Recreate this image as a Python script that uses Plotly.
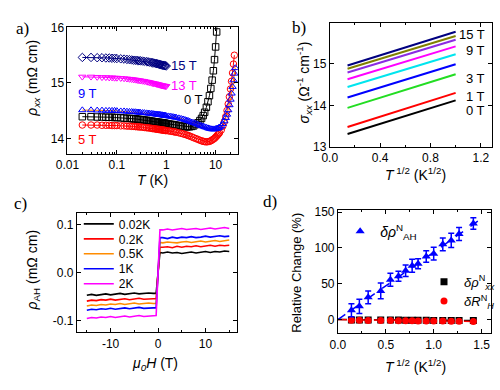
import plotly.graph_objects as go

# ---------------- data: panel a ----------------
T_low = [0.02, 0.03, 0.04, 0.05, 0.06, 0.07, 0.08, 0.09, 0.10, 0.12, 0.14, 0.16, 0.18, 0.20,
         0.22, 0.24, 0.26, 0.28, 0.30, 0.33, 0.36, 0.40, 0.43, 0.46, 0.50, 0.53, 0.56, 0.60,
         0.63, 0.66, 0.70, 0.73, 0.76, 0.80, 0.83, 0.86, 0.90, 0.93, 0.96, 1.00]
T_high = [1.1, 1.2, 1.3, 1.4, 1.5, 1.6, 1.8, 2.0, 2.2, 2.4, 2.6, 2.8, 3.0, 3.3, 3.6, 4.0, 4.4,
          4.8, 5.2, 5.6, 6.0, 6.5, 7.0, 7.5, 8.0, 8.5, 9.0, 9.5, 10, 10.5, 11, 11.5, 12, 13,
          14, 15, 16, 17, 18, 19, 20, 21, 22, 23, 24, 25]

rho_15T = [15.46, 15.46, 15.455, 15.455, 15.45, 15.45, 15.445, 15.445, 15.44, 15.435,
           15.43, 15.425, 15.42, 15.415, 15.41, 15.41, 15.405, 15.40, 15.40, 15.395,
           15.39, 15.385, 15.38, 15.375, 15.37, 15.365, 15.36, 15.355, 15.35, 15.345,
           15.34, 15.335, 15.33, 15.325, 15.32, 15.32, 15.315, 15.31, 15.31, 15.305]
rho_13T = [15.11, 15.11, 15.105, 15.10, 15.10, 15.095, 15.095, 15.09, 15.09, 15.085,
           15.08, 15.075, 15.07, 15.065, 15.06, 15.055, 15.05, 15.045, 15.04, 15.035,
           15.03, 15.02, 15.015, 15.01, 15.00, 14.995, 14.99, 14.985, 14.98, 14.975,
           14.97, 14.965, 14.96, 14.955, 14.95, 14.95, 14.945, 14.945, 14.94, 14.94]
rho_9T = [14.51, 14.51, 14.505, 14.505, 14.50, 14.50, 14.50, 14.50, 14.495, 14.49,
          14.49, 14.485, 14.48, 14.48, 14.475, 14.475, 14.47, 14.47, 14.465, 14.46,
          14.46, 14.455, 14.45, 14.45, 14.445, 14.44, 14.44, 14.435, 14.435, 14.43,
          14.43, 14.425, 14.425, 14.42, 14.42, 14.415, 14.415, 14.41, 14.41, 14.405,
          14.40, 14.395, 14.39, 14.385, 14.38, 14.375, 14.365, 14.355, 14.345, 14.335,
          14.325, 14.315, 14.305, 14.29, 14.28, 14.265, 14.25, 14.235, 14.225, 14.215,
          14.205, 14.195, 14.185, 14.175, 14.17, 14.165, 14.165, 14.165, 14.17, 14.175,
          14.18, 14.19, 14.20, 14.22, 14.26, 14.31, 14.37, 14.43, 14.51, 14.60,
          14.70, 14.81, 14.93, 15.05, 15.17, 15.27]
rho_0T = [14.39, 14.39, 14.385, 14.385, 14.38, 14.38, 14.38, 14.375, 14.375, 14.37,
          14.365, 14.36, 14.36, 14.355, 14.35, 14.35, 14.345, 14.34, 14.34, 14.335,
          14.33, 14.325, 14.32, 14.315, 14.31, 14.305, 14.30, 14.30, 14.295, 14.29,
          14.29, 14.285, 14.285, 14.28, 14.28, 14.275, 14.275, 14.27, 14.27, 14.265,
          14.26, 14.255, 14.25, 14.245, 14.24, 14.235, 14.23, 14.22, 14.215, 14.21,
          14.21, 14.21, 14.21, 14.215, 14.225, 14.25, 14.28, 14.32, 14.36, 14.41,
          14.47, 14.56, 14.66, 14.77, 14.90, 15.05, 15.22, 15.42, 15.65, 15.92, 16.2]
rho_5T = [14.24, 14.24, 14.24, 14.235, 14.235, 14.235, 14.23, 14.23, 14.23, 14.225,
          14.225, 14.22, 14.22, 14.215, 14.215, 14.21, 14.21, 14.205, 14.205, 14.20,
          14.195, 14.19, 14.19, 14.185, 14.18, 14.175, 14.175, 14.17, 14.165, 14.165,
          14.16, 14.16, 14.155, 14.155, 14.15, 14.15, 14.145, 14.145, 14.14, 14.14,
          14.135, 14.13, 14.125, 14.12, 14.115, 14.11, 14.10, 14.09, 14.08, 14.07,
          14.06, 14.05, 14.04, 14.025, 14.01, 13.995, 13.98, 13.965, 13.955, 13.945,
          13.94, 13.935, 13.94, 13.945, 13.955, 13.97, 13.985, 14.00, 14.02, 14.04,
          14.06, 14.08, 14.10, 14.15, 14.22, 14.30, 14.39, 14.50, 14.62, 14.75,
          14.89, 15.03, 15.18, 15.34, 15.50]

# ---------------- data: panel b ----------------
sqrtT_b = [0.141, 1.0]
b_fields = ["0 T", "1 T", "3 T", "5 T", "7 T", "9 T", "11 T", "13 T", "15 T"]
sigma_start = [13.31, 13.48, 13.94, 14.19, 14.44, 14.63, 14.79, 14.88, 14.96]
sigma_end = [14.12, 14.30, 14.75, 14.99, 15.23, 15.42, 15.58, 15.67, 15.77]

# ---------------- data: panel c ----------------
H_field = [-15, -14, -13, -12, -11, -10, -9, -8, -7, -6, -5, -4, -3, -2, -1,
           -0.4, 0, 0.4,
           1, 2, 3, 4, 5, 6, 7, 8, 9, 10, 11, 12, 13, 14, 15]
c_names = ["0.02K", "0.2K", "0.5K", "1K", "2K"]
rhoAH_002K = [-0.047, -0.045, -0.047, -0.046, -0.044, -0.046, -0.045, -0.043, -0.045, -0.044,
              -0.042, -0.044, -0.043, -0.042, -0.043, -0.043, 0.0, 0.042,
              0.041, 0.043, 0.041, 0.042, 0.040, 0.042, 0.043, 0.041, 0.043, 0.044,
              0.042, 0.044, 0.043, 0.045, 0.044]
rhoAH_02K = [-0.059, -0.057, -0.058, -0.056, -0.057, -0.055, -0.057, -0.056, -0.054, -0.056,
             -0.055, -0.053, -0.055, -0.054, -0.054, -0.054, 0.0, 0.053,
             0.053, 0.054, 0.052, 0.055, 0.053, 0.055, 0.054, 0.056, 0.054, 0.056,
             0.057, 0.055, 0.057, 0.056, 0.057]
rhoAH_05K = [-0.069, -0.067, -0.068, -0.066, -0.067, -0.065, -0.066, -0.064, -0.066, -0.065,
             -0.063, -0.065, -0.064, -0.063, -0.064, -0.064, 0.0, 0.063,
             0.062, 0.064, 0.063, 0.062, 0.064, 0.065, 0.063, 0.065, 0.066, 0.064,
             0.066, 0.067, 0.065, 0.067, 0.068]
rhoAH_1K = [-0.078, -0.076, -0.077, -0.075, -0.076, -0.074, -0.076, -0.075, -0.073, -0.075,
            -0.074, -0.072, -0.074, -0.073, -0.073, -0.073, 0.0, 0.073,
            0.073, 0.071, 0.074, 0.072, 0.074, 0.073, 0.075, 0.073, 0.074, 0.076,
            0.074, 0.075, 0.077, 0.075, 0.076]
rhoAH_2K = [-0.095, -0.093, -0.094, -0.092, -0.093, -0.091, -0.093, -0.092, -0.090, -0.092,
            -0.091, -0.089, -0.091, -0.090, -0.089, -0.089, 0.0, 0.089,
            0.089, 0.091, 0.089, 0.090, 0.092, 0.090, 0.091, 0.092, 0.090, 0.092,
            0.093, 0.091, 0.093, 0.094, 0.092]

# ---------------- data: panel d ----------------
sqrtT_d = [0.141, 0.224, 0.316, 0.447, 0.548, 0.632, 0.707, 0.775, 0.837, 0.922,
           1.0, 1.095, 1.183, 1.265, 1.414]
d_AH = [13, 18.5, 31, 40, 55.5, 60.5, 68, 75, 78, 88, 92, 105, 110.5, 119.5, 134]
d_AH_err = [9, 10, 9, 11, 9, 7, 8, 9, 7, 8, 9, 9, 10, 9, 8]
d_xx = [-0.5, -0.5, -0.6, -0.7, -0.8, -0.8, -0.9, -1.0, -1.0, -1.1, -1.2, -1.2, -1.3, -1.4, -1.5]
d_RH = [-1.0, -1.1, -1.2, -1.4, -1.5, -1.6, -1.7, -1.8, -1.9, -2.0, -2.1, -2.2, -2.3, -2.5, -2.7]
fit_x = [0, 1.5]
fit_AH = [0, 141]
fit_xx = [0, -1.5]
fit_RH = [0, -2.8]

# ---------------- figure ----------------
W, HH = 500, 390
def px(x): return x / W
def py(y): return 1 - y / HH

SANS = "Liberation Sans, Arial, sans-serif"
SERIF = "Liberation Serif, Times New Roman, serif"

fig = go.Figure()

# panel a
a_specs = [
    ("0 T", rho_0T, "square-open", "black", "black"),
    ("5 T", rho_5T, "circle-open", "red", "red"),
    ("9 T", rho_9T, "triangle-up-open", "blue", "#ff8c00"),
    ("13 T", rho_13T, "triangle-down-open", "#ff00ff", "#ff00ff"),
    ("15 T", rho_15T, "diamond-open", "#000080", "#000080"),
]
T_all = T_low + T_high
for name, vals, sym, col, lcol in a_specs:
    fig.add_trace(go.Scatter(
        x=T_all[:len(vals)], y=vals, mode="lines+markers", name=name,
        marker=dict(symbol=sym, size=6.5, color=col, line=dict(width=1, color=col)),
        line=dict(color=lcol, width=1), xaxis="x", yaxis="y", showlegend=False))

# panel b
b_colors = ["black", "red", "#22dd22", "blue", "#00e5ee", "#ff00ff", "#8a2be2", "#808000", "#000080"]
for name, s0, s1, col in zip(b_fields, sigma_start, sigma_end, b_colors):
    fig.add_trace(go.Scatter(x=sqrtT_b, y=[s0, s1], mode="lines", name=name,
                             line=dict(color=col, width=2), xaxis="x2", yaxis="y2",
                             showlegend=False))

# panel c : one legend per entry so rows can sit as close as in the reference
c_colors = ["black", "red", "#ff8c00", "blue", "#ff00ff"]
c_legends = ["legend", "legend2", "legend3", "legend4", "legend5"]
for name, vals, col, lg in zip(c_names, [rhoAH_002K, rhoAH_02K, rhoAH_05K, rhoAH_1K, rhoAH_2K],
                               c_colors, c_legends):
    fig.add_trace(go.Scatter(x=H_field, y=vals, mode="lines", name=name,
                             line=dict(color=col, width=1.6), xaxis="x3", yaxis="y3",
                             legend=lg))

# panel d
fig.add_trace(go.Scatter(x=fit_x, y=fit_xx, mode="lines", line=dict(color="black", width=1.5, dash="dash"),
                         xaxis="x4", yaxis="y4", showlegend=False))
fig.add_trace(go.Scatter(x=fit_x, y=fit_RH, mode="lines", line=dict(color="red", width=1.5, dash="dash"),
                         xaxis="x4", yaxis="y4", showlegend=False))
fig.add_trace(go.Scatter(x=fit_x, y=fit_AH, mode="lines", line=dict(color="blue", width=1.5, dash="dash"),
                         xaxis="x4", yaxis="y4", showlegend=False))
fig.add_trace(go.Scatter(x=sqrtT_d, y=d_xx, mode="markers", name="<i>δρ</i><sup>N</sup><sub><i>xx</i></sub>",
                         marker=dict(symbol="square", size=7, color="black"),
                         xaxis="x4", yaxis="y4", legend="legend7"))
fig.add_trace(go.Scatter(x=sqrtT_d, y=d_RH, mode="markers", name="<i>δR</i><sup>N</sup><sub><i>H</i></sub>",
                         marker=dict(symbol="circle", size=7, color="red"),
                         xaxis="x4", yaxis="y4", legend="legend8"))
fig.add_trace(go.Scatter(x=sqrtT_d, y=d_AH, mode="markers", name="<i>δρ</i><sup>N</sup><sub>AH</sub>",
                         marker=dict(symbol="triangle-up", size=8, color="blue"),
                         error_y=dict(type="data", array=d_AH_err, color="blue", thickness=1.5, width=3),
                         xaxis="x4", yaxis="y4", legend="legend6"))

axis_common = dict(showline=True, linecolor="black", linewidth=1, mirror="ticks",
                   ticks="inside", ticklen=4, tickwidth=1, tickcolor="black",
                   showgrid=False, zeroline=False,
                   tickfont=dict(family=SANS, size=12, color="black"))

def leg(x, y, size):
    return dict(x=px(x), y=py(y), xanchor="left", yanchor="middle", bgcolor="rgba(0,0,0,0)",
                font=dict(family=SANS, size=size, color="black"), borderwidth=0, tracegroupgap=0)

fig.update_layout(
    width=W, height=HH, margin=dict(l=0, r=0, t=0, b=0),
    paper_bgcolor="white", plot_bgcolor="white",
    font=dict(family=SANS, size=12, color="black"),
    xaxis=dict(axis_common, domain=[px(57.3), px(233.3)], anchor="y", type="log",
               range=[-2, 1.45], dtick=1, tick0=0,
               minor=dict(ticks="inside", ticklen=2, dtick="D1", tickcolor="black")),
    yaxis=dict(axis_common, domain=[py(152.3), py(21)], anchor="x",
               range=[13.72, 16.005], tickvals=[14, 15, 16]),
    xaxis2=dict(axis_common, domain=[px(328.3), px(496)], anchor="y2",
                range=[0, 1.29], tickvals=[0, 0.4, 0.8, 1.2], ticktext=["0.0", "0.4", "0.8", "1.2"],
                minor=dict(ticks="inside", ticklen=2, dtick=0.2, tick0=0, tickcolor="black")),
    yaxis2=dict(axis_common, domain=[py(145.3), py(16.7)], anchor="x2",
                range=[12.995, 15.98], tickvals=[13, 14, 15]),
    xaxis3=dict(axis_common, domain=[px(67), px(232.3)], anchor="y3",
                range=[-17.1, 16.6], tickvals=[-10, 0, 10], ticktext=["-10", "0", "10"],
                minor=dict(ticks="inside", ticklen=2, dtick=5, tick0=0, tickcolor="black")),
    yaxis3=dict(axis_common, domain=[py(337.5), py(214)], anchor="x3",
                range=[-0.124, 0.1235], tickvals=[-0.1, 0, 0.1], ticktext=["-0.1", "0.0", "0.1"]),
    xaxis4=dict(axis_common, domain=[px(336.7), px(495)], anchor="y4",
                range=[0, 1.6], tickvals=[0, 0.5, 1.0, 1.5], ticktext=["0.0", "0.5", "1.0", "1.5"],
                minor=dict(ticks="inside", ticklen=2, dtick=0.25, tick0=0, tickcolor="black")),
    yaxis4=dict(axis_common, domain=[py(338.3), py(210.5)], anchor="x4",
                range=[-19, 153], tickvals=[0, 50, 100, 150]),
    legend=leg(69, 225, 12),
    legend2=leg(69, 240.5, 12),
    legend3=leg(69, 256, 12),
    legend4=leg(69, 271.5, 12),
    legend5=leg(69, 287, 12),
    legend6=leg(339, 233, 14),
    legend7=leg(426, 285, 13),
    legend8=leg(426, 305, 13),
)

ann = []
def text(x, y, s, size=14, color="black", angle=0, family=SANS, xanchor="center"):
    ann.append(dict(x=px(x), y=py(y), xref="paper", yref="paper", text=s, showarrow=False,
                    font=dict(family=family, size=size, color=color), textangle=angle,
                    xanchor=xanchor, yanchor="middle"))

# panel labels
text(11, 22, "a)", 17, family=SERIF)
text(296, 21, "b)", 17, family=SERIF)
text(9, 204, "c)", 17, family=SERIF)
text(267, 202, "d)", 17, family=SERIF)

# axis titles
text(22, 74, "<i>ρ<sub>xx</sub></i> (mΩ cm)", 14, angle=-90)
text(145, 179, "<i>T</i> (K)", 14)
text(302, 78, "<i>σ<sub>xx</sub></i> (Ω<sup>-1</sup> cm<sup>-1</sup>)", 14, angle=-90)
text(417, 173, "<i>T</i><sup> 1/2</sup> (K<sup>1/2</sup>)", 14)
text(22, 273, "<i>ρ</i><sub>AH</sub> (mΩ cm)", 14, angle=-90)
text(148, 370, "<i>μ<sub>0</sub>H</i> (T)", 14)
text(294, 276, "Relative Change (%)", 13, angle=-90)
text(417, 372, "<i>T</i><sup> 1/2</sup> (K<sup>1/2</sup>)", 14)

# panel a curve labels
text(162, 61, "15 T", 13, color="#000080", xanchor="left")
text(162, 81, "13 T", 13, color="#ff00ff", xanchor="left")
text(66, 90, "9 T", 13, color="blue", xanchor="left")
text(176, 96, "0 T", 13, color="black", xanchor="left")
text(66, 137, "5 T", 13, color="red", xanchor="left")

# panel b curve labels
for s, y in [("15 T", 29), ("9 T", 45), ("3 T", 74), ("1 T", 93), ("0 T", 107)]:
    text(491, y, s, 13, xanchor="right")

fig.update_layout(annotations=ann)
fig.write_html("out.html", config={"displayModeBar": False, "staticPlot": True},
               post_script="document.body.style.margin='0';document.body.style.padding='0';"
                           "document.documentElement.style.overflow='hidden';")
